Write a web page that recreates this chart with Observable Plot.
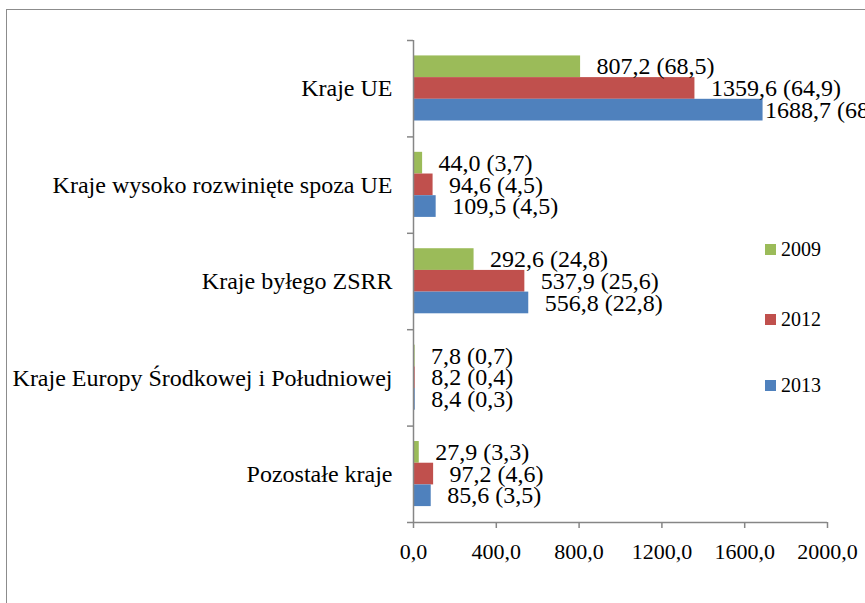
<!DOCTYPE html>
<html>
<head>
<meta charset="utf-8">
<script src="https://cdn.jsdelivr.net/npm/d3@7"></script>
<script src="https://cdn.jsdelivr.net/npm/@observablehq/plot@0.6"></script>
<style>
  html, body { margin: 0; padding: 0; background: #fff; }
  #wrap { position: relative; width: 865px; height: 603px; overflow: hidden; font-family: "Liberation Serif", "Times New Roman", serif; }
  #frame { position: absolute; left: 6px; top: 9px; width: 1000px; height: 1000px; border-left: 1.5px solid #8c8c8c; border-top: 1.5px solid #8c8c8c; }
  #chart { position: absolute; left: 0; top: 0; }
  #chart svg, #chart svg text { font-family: "Liberation Serif", "Times New Roman", serif !important; }
  #legend { position: absolute; left: 765px; top: 0; font-size: 20px; color: #000; }
  .item { position: absolute; left: 0; white-space: nowrap; display: flex; align-items: center; }
  .sw { width: 11px; height: 11px; margin-right: 5px; }
  svg text { white-space: pre; }
</style>
</head>
<body>
<div id="wrap">
  <div id="frame"></div>
  <div id="chart"></div>
  <div id="legend"></div>
</div>
<script>
const categories = ["Kraje UE", "Kraje wysoko rozwinięte spoza UE", "Kraje byłego ZSRR", "Kraje Europy Środkowej i Południowej", "Pozostałe kraje"];
const years = ["2009", "2012", "2013"];
const values2009 = [807.2, 44.0, 292.6, 7.8, 27.9];
const shares2009 = [68.5, 3.7, 24.8, 0.7, 3.3];
const values2012 = [1359.6, 94.6, 537.9, 8.2, 97.2];
const shares2012 = [64.9, 4.5, 25.6, 0.4, 4.6];
const values2013 = [1688.7, 109.5, 556.8, 8.4, 85.6];
const shares2013 = [68.9, 4.5, 22.8, 0.3, 3.5];
const xTicks = [0, 400, 800, 1200, 1600, 2000];
const colors = ["#9BBB59", "#C0504D", "#4F81BD"];

const W = 865, H = 603;
const mL = 413, mR = 38, mT = 40, mB = 81;
const fsCat = 24, fsLab = 24, fsTick = 22;
const groupPad = 0.16, barH = 0.225;
const fmt = v => v.toFixed(1).replace(".", ",");

const series = [values2009, values2012, values2013];
const shares = [shares2009, shares2012, shares2013];
const rows = [];
categories.forEach((c, i) => {
  years.forEach((yr, k) => {
    const y1 = i + groupPad + k * barH;
    rows.push({
      cat: c, year: yr, value: series[k][i], share: shares[k][i],
      y1, y2: y1 + barH, label: fmt(series[k][i]) + " (" + fmt(shares[k][i]) + ")"
    });
  });
});

const xMax = xTicks[xTicks.length - 1];
const px = v => mL + v / xMax * (W - mL - mR);
const gap = 16;
const fits = d => px(d.value) + gap + d.label.length * 0.45 * fsLab <= W;

const axisColor = "#868686";

const chart = Plot.plot({
  width: W, height: H,
  marginLeft: mL, marginRight: mR, marginTop: mT, marginBottom: mB,
  style: { fontFamily: "Liberation Serif, Times New Roman, serif", fontSize: fsTick + "px", color: "#000", background: "transparent" },
  x: { domain: [0, xMax] },
  y: { domain: [0, categories.length], reverse: true },
  color: { domain: years, range: colors },
  marks: [
    Plot.rect(rows, { x1: 0, x2: "value", y1: "y1", y2: "y2", fill: "year" }),
    Plot.ruleX([0], { y1: 0, y2: categories.length, stroke: axisColor, strokeWidth: 1.5 }),
    Plot.ruleY([categories.length], { x1: 0, x2: xMax, stroke: axisColor, strokeWidth: 1.5 }),
    Plot.axisY(d3.range(categories.length + 1), { tickSize: 6, tickFormat: () => "", stroke: axisColor, strokeWidth: 1.5, label: null }),
    Plot.axisY(categories.map((c, i) => i + 0.5), { tickSize: 0, tickPadding: 21, tickFormat: v => categories[Math.floor(v)], fontSize: fsCat, fill: "#000", label: null }),
    Plot.axisX(xTicks, { tickSize: 6, tickPadding: 15, tickFormat: fmt, stroke: axisColor, strokeWidth: 1.5, fontSize: fsTick, fill: "#000", label: null }),
    Plot.text(rows.filter(fits), { x: "value", y: d => (d.y1 + d.y2) / 2, text: "label", textAnchor: "start", dx: gap, fontSize: fsLab, fill: "#000" }),
    Plot.text(rows.filter(d => !fits(d)), { x: "value", y: d => (d.y1 + d.y2) / 2, text: "label", textAnchor: "start", dx: 2, fontSize: fsLab, fill: "#000" })
  ]
});
document.getElementById("chart").appendChild(chart);

const legendTops = [250, 320, 386];
const legend = document.getElementById("legend");
years.forEach((yr, k) => {
  const item = document.createElement("div");
  item.className = "item";
  item.style.top = (legendTops[k] - 12) + "px";
  item.innerHTML = `<div class="sw" style="background:${colors[k]}"></div><span>${yr}</span>`;
  legend.appendChild(item);
});
</script>
</body>
</html>
